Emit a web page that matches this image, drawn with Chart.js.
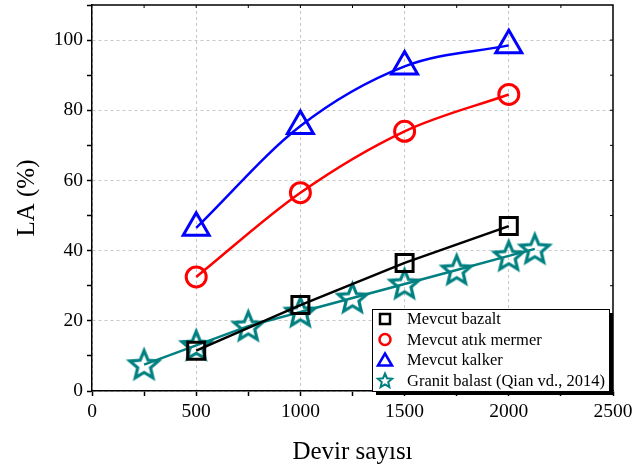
<!DOCTYPE html>
<html>
<head>
<meta charset="utf-8">
<script src="https://cdn.jsdelivr.net/npm/chart.js@4.4.0/dist/chart.umd.min.js"></script>
<style>
html, body { margin: 0; padding: 0; background: #fff; }
</style>
</head>
<body>
<canvas id="grafica" width="633" height="468"></canvas>
<script>
// veriler
var devir = [500, 1000, 1500, 2000];
var bazalt = [11.5, 24.5, 36.5, 47];
var mermer = [32.5, 56.5, 74, 84.5];
var kalker = [46.5, 75.5, 92.5, 98.5];
var granitDevir = [250, 500, 750, 1000, 1250, 1500, 1750, 2000, 2125];
var granit = [7.5, 13, 18.5, 22.5, 26.5, 30.5, 34.5, 38.5, 40.5];
var etiketler = ['Mevcut bazalt', 'Mevcut atık mermer', 'Mevcut kalker', 'Granit balast (Qian vd., 2014)'];
var xEtiketleri = [0, 500, 1000, 1500, 2000, 2500];
var yEtiketleri = [0, 20, 40, 60, 80, 100];

var SIYAH = '#000000', KIRMIZI = '#ff0000', MAVI = '#0000ff', CAMGOBEGI = '#008080';
var FONT = "'Liberation Serif', 'Times New Roman', serif";

function noktalar(xs, ys) {
    return xs.map(function (x, i) { return { x: x, y: ys[i] }; });
}

// yildiz isaretci
function yildizYolu(ctx, cx, cy, R, r) {
    ctx.beginPath();
    for (var i = 0; i < 10; i++) {
        var a = -Math.PI / 2 + i * Math.PI / 5;
        var rr = (i % 2 === 0) ? R : r;
        var px = cx + rr * Math.cos(a), py = cy + rr * Math.sin(a);
        if (i === 0) ctx.moveTo(px, py); else ctx.lineTo(px, py);
    }
    ctx.closePath();
}
function yildizCanvas(R, lw) {
    var c = document.createElement('canvas');
    var s = Math.ceil(2 * R + lw * 2 + 2);
    c.width = s; c.height = s;
    var g = c.getContext('2d');
    g.strokeStyle = CAMGOBEGI;
    g.lineWidth = lw;
    g.lineJoin = 'miter';
    yildizYolu(g, s / 2, s / 2 + 1, R, R * 0.45);
    g.stroke();
    return c;
}
var yildiz = yildizCanvas(15, 3.2);

// ust ve sag cerceve, iceri bakan kucuk tikler
var cercevePlugin = {
    id: 'cerceve',
    afterDatasetsDraw: function (chart) {
        var ctx = chart.ctx, a = chart.chartArea;
        var xs = chart.scales.x, ys = chart.scales.y;
        ctx.save();
        ctx.strokeStyle = '#000';
        ctx.lineWidth = 1.5;
        ctx.beginPath();
        ctx.moveTo(a.left, a.top);
        ctx.lineTo(a.right, a.top);
        ctx.lineTo(a.right, a.bottom);
        ctx.stroke();
        ctx.lineWidth = 1;
        ctx.beginPath();
        for (var v = 250; v < 2500; v += 250) {
            var px = xs.getPixelForValue(v);
            ctx.moveTo(px, a.top); ctx.lineTo(px, a.top + 3);
        }
        for (var w = 10; w < 110; w += 10) {
            var py = ys.getPixelForValue(w);
            ctx.moveTo(a.right, py); ctx.lineTo(a.right - 3, py);
        }
        ctx.stroke();
        ctx.restore();
    }
};

// grafik icindeki lejant
var lejantPlugin = {
    id: 'lejant',
    afterDraw: function (chart) {
        var ctx = chart.ctx;
        var x0 = 372, y0 = 309, w = 237, h = 82;
        ctx.save();
        ctx.fillStyle = '#000';
        ctx.fillRect(x0 + 4, y0 + 4, w, h);
        ctx.fillStyle = '#fff';
        ctx.fillRect(x0, y0, w, h);
        ctx.strokeStyle = '#000';
        ctx.lineWidth = 1;
        ctx.strokeRect(x0 + 0.5, y0 + 0.5, w, h);
        var mx = 385, tx = 407;
        var satirlar = [319, 339.5, 360, 380.5];
        ctx.lineWidth = 2.5;
        // kare
        ctx.strokeStyle = SIYAH;
        ctx.strokeRect(mx - 5, satirlar[0] - 5, 10, 10);
        // daire
        ctx.strokeStyle = KIRMIZI;
        ctx.beginPath(); ctx.arc(mx, satirlar[1], 5.5, 0, Math.PI * 2); ctx.stroke();
        // ucgen
        ctx.strokeStyle = MAVI;
        ctx.beginPath();
        ctx.moveTo(mx, satirlar[2] - 6.5);
        ctx.lineTo(mx + 7, satirlar[2] + 5.5);
        ctx.lineTo(mx - 7, satirlar[2] + 5.5);
        ctx.closePath(); ctx.stroke();
        // yildiz
        ctx.strokeStyle = CAMGOBEGI;
        ctx.lineWidth = 2;
        yildizYolu(ctx, mx, satirlar[3] + 0.5, 7.5, 3.4);
        ctx.stroke();
        ctx.fillStyle = '#000';
        ctx.font = '16.5px ' + FONT;
        ctx.textBaseline = 'middle';
        etiketler.forEach(function (t, i) { ctx.fillText(t, tx, satirlar[i] + 1); });
        ctx.restore();
    }
};

function anaMi(v, adim) { return Math.abs(v % adim) < 1e-6; }

var grafica = new Chart(document.getElementById('grafica'), {
    type: 'scatter',
    data: {
        datasets: [
            {
                label: etiketler[0],
                data: noktalar(devir, bazalt),
                showLine: true,
                borderColor: SIYAH,
                borderWidth: 2.5,
                backgroundColor: 'rgba(0,0,0,0)',
                pointStyle: 'rect',
                pointRadius: 12,
                pointBorderWidth: 3,
                pointBorderColor: SIYAH,
                tension: 0
            },
            {
                label: etiketler[1],
                data: noktalar(devir, mermer),
                showLine: true,
                borderColor: KIRMIZI,
                borderWidth: 2.5,
                backgroundColor: 'rgba(0,0,0,0)',
                pointStyle: 'circle',
                pointRadius: 10,
                pointBorderWidth: 3,
                pointBorderColor: KIRMIZI,
                tension: 0.4,
                cubicInterpolationMode: 'monotone'
            },
            {
                label: etiketler[2],
                data: noktalar(devir, kalker),
                showLine: true,
                borderColor: MAVI,
                borderWidth: 2.5,
                backgroundColor: 'rgba(0,0,0,0)',
                pointStyle: 'triangle',
                pointRadius: 15,
                pointBorderWidth: 3,
                pointBorderColor: MAVI,
                tension: 0.4,
                cubicInterpolationMode: 'monotone'
            },
            {
                label: etiketler[3],
                data: noktalar(granitDevir, granit),
                showLine: true,
                borderColor: CAMGOBEGI,
                borderWidth: 2.5,
                backgroundColor: 'rgba(0,0,0,0)',
                pointStyle: yildiz,
                pointRadius: 16,
                tension: 0
            }
        ]
    },
    options: {
        responsive: false,
        animation: false,
        layout: { autoPadding: false, padding: { top: 5, right: 20, left: 0, bottom: 0 } },
        plugins: {
            legend: { display: false },
            tooltip: { enabled: false }
        },
        scales: {
            x: {
                type: 'linear',
                min: 0,
                max: 2500,
                afterFit: function (s) { s.height = 77; s.paddingLeft = 0; s.paddingRight = 0; },
                ticks: {
                    stepSize: 250,
                    autoSkip: false,
                    maxRotation: 0,
                    color: '#000',
                    font: { family: FONT, size: 19.5 },
                    padding: 4,
                    callback: function (v) { return anaMi(v, 500) ? v : ''; }
                },
                grid: {
                    color: function (c) { return anaMi(c.tick.value, 500) && c.tick.value < 2500 ? '#c8c8c8' : 'rgba(0,0,0,0)'; },
                    tickColor: '#000',
                    tickLength: 5,
                    tickWidth: 1.5,
                    tickBorderDash: [],
                    lineWidth: 1
                },
                border: { display: true, color: '#000', width: 1.5, dash: [3, 3] },
                title: {
                    display: true,
                    text: 'Devir sayısı',
                    color: '#000',
                    font: { family: FONT, size: 25 },
                    padding: { top: 0, bottom: 1 }
                }
            },
            y: {
                type: 'linear',
                min: 0,
                max: 110,
                afterFit: function (s) { s.width = 92; s.paddingTop = 0; s.paddingBottom = 0; },
                ticks: {
                    stepSize: 10,
                    autoSkip: false,
                    color: '#000',
                    font: { family: FONT, size: 19.5 },
                    padding: 4,
                    callback: function (v) { return anaMi(v, 20) && v <= 100 ? v : ''; }
                },
                grid: {
                    color: function (c) { return anaMi(c.tick.value, 20) && c.tick.value <= 100 ? '#c8c8c8' : 'rgba(0,0,0,0)'; },
                    tickColor: '#000',
                    tickLength: 5,
                    tickWidth: 1.5,
                    tickBorderDash: [],
                    lineWidth: 1
                },
                border: { display: true, color: '#000', width: 1.5, dash: [3, 3] },
                title: {
                    display: true,
                    text: 'LA (%)',
                    color: '#000',
                    font: { family: FONT, size: 25 },
                    padding: { top: 12, bottom: 0 }
                }
            }
        }
    },
    plugins: [cercevePlugin, lejantPlugin]
});
</script>
</body>
</html>
